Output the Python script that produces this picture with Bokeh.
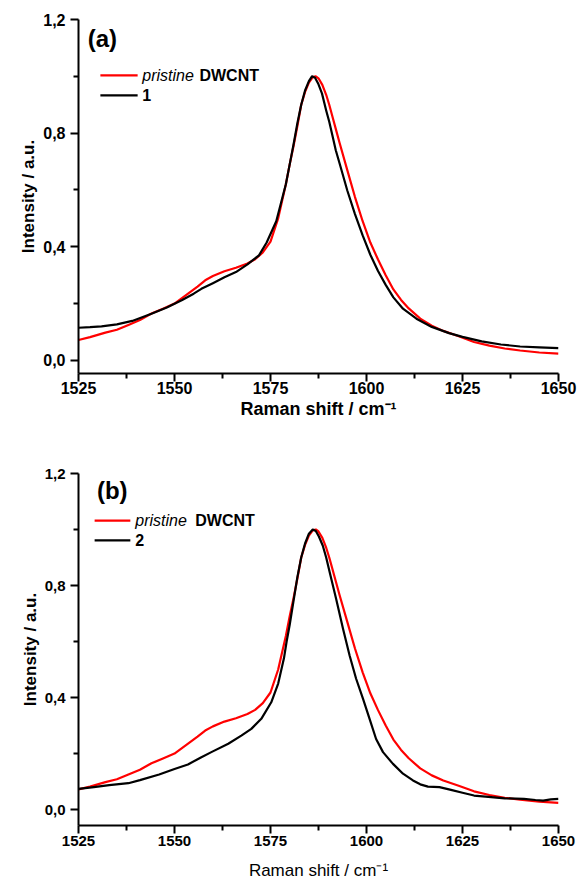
from bokeh.plotting import figure
from bokeh.layouts import column
from bokeh.models import Range1d, FixedTicker, CustomJSTickFormatter, Label
from bokeh.embed import file_html
from bokeh.resources import INLINE

# ---------------- data ----------------
# pristine DWCNT (red), shared by both panels
x_pristine = [1525, 1528, 1532, 1535, 1538, 1541, 1544, 1547, 1550, 1553, 1556, 1558,
              1560, 1563, 1566, 1569, 1571, 1573, 1575, 1577, 1579, 1580, 1581, 1582,
              1583, 1584, 1585, 1586, 1586.8, 1587.5, 1588.5, 1589.5, 1590.3, 1591, 1592,
              1593, 1595, 1597, 1599, 1601, 1603, 1605, 1607, 1609, 1611, 1614, 1617,
              1620, 1624, 1628, 1632, 1636, 1640, 1645, 1650]
y_pristine = [0.072, 0.082, 0.098, 0.108, 0.125, 0.142, 0.165, 0.182, 0.200, 0.230, 0.260,
              0.282, 0.297, 0.314, 0.326, 0.341, 0.356, 0.380, 0.418, 0.500, 0.620, 0.690,
              0.755, 0.825, 0.900, 0.945, 0.978, 0.997, 1.000, 0.993, 0.970, 0.935, 0.900,
              0.865, 0.815, 0.765, 0.670, 0.575, 0.490, 0.415, 0.355, 0.300, 0.250, 0.213,
              0.183, 0.147, 0.122, 0.104, 0.085, 0.065, 0.052, 0.042, 0.035, 0.028, 0.024]

# sample 1 (black, panel a)
x_s1 = [1525, 1528, 1531, 1535, 1539, 1544, 1548, 1552, 1555, 1557, 1560, 1563, 1566,
        1569, 1572, 1574, 1576.5, 1579, 1580, 1581, 1582, 1583, 1584, 1585, 1585.8,
        1586.6, 1587.4, 1588.4, 1589.5, 1590.3, 1591.2, 1592, 1593, 1595, 1597, 1599,
        1601, 1603, 1605, 1607, 1609.5, 1613, 1617, 1621.5, 1625, 1630, 1635, 1640,
        1645, 1650]
y_s1 = [0.115, 0.117, 0.120, 0.127, 0.139, 0.164, 0.186, 0.213, 0.235, 0.252, 0.272,
        0.293, 0.311, 0.338, 0.370, 0.415, 0.490, 0.620, 0.690, 0.760, 0.835, 0.900,
        0.950, 0.983, 1.000, 0.995, 0.975, 0.940, 0.880, 0.840, 0.787, 0.740, 0.693,
        0.598, 0.515, 0.440, 0.372, 0.315, 0.266, 0.222, 0.182, 0.147, 0.118, 0.096,
        0.083, 0.067, 0.056, 0.049, 0.046, 0.043]

# sample 2 (black, panel b)
x_s2 = [1525, 1529, 1533, 1538, 1541, 1546, 1550, 1553.5, 1557, 1559.6, 1564, 1567.4,
        1570, 1572.6, 1575.2, 1577, 1578.5, 1579.2, 1580, 1581, 1582, 1583, 1584, 1585,
        1586, 1586.8, 1587.6, 1588.6, 1589.5, 1590.4, 1592.1, 1593.9, 1595.6, 1597.3,
        1599.1, 1600.8, 1602.5, 1604.3, 1606.9, 1609.5, 1612.1, 1614, 1616, 1619, 1622,
        1625, 1628, 1631, 1636, 1641, 1644, 1646, 1648, 1650]
y_s2 = [0.074, 0.080, 0.087, 0.094, 0.105, 0.125, 0.145, 0.161, 0.187, 0.205, 0.235,
        0.264, 0.288, 0.324, 0.383, 0.450, 0.540, 0.600, 0.660, 0.745, 0.830, 0.900,
        0.950, 0.985, 1.000, 0.995, 0.975, 0.943, 0.900, 0.848, 0.752, 0.645, 0.550,
        0.467, 0.395, 0.324, 0.252, 0.205, 0.163, 0.128, 0.104, 0.090, 0.082, 0.080,
        0.070, 0.060, 0.050, 0.046, 0.040, 0.038, 0.034, 0.032, 0.036, 0.038]

x_ticks = [1525, 1550, 1575, 1600, 1625, 1650]
x_minor = [1537.5, 1562.5, 1587.5, 1612.5, 1637.5]
y_ticks = [0.0, 0.4, 0.8, 1.2]
y_minor = [0.2, 0.6, 1.0]

FONT = "Liberation Sans"
RED = "#ff0000"
BLACK = "#000000"


def make_panel(h, top, bottom, y_lo, black_x, black_y, tag, sample_name,
               tick_size, title_size, title_weight, x_label_standoff, x_title_standoff,
               tag_pos, leg_pos):
    p = figure(width=578, height=h, x_range=Range1d(1525, 1650), y_range=Range1d(y_lo, 1.2),
               output_backend="svg", toolbar_location=None,
               min_border_left=78, min_border_right=20, min_border_top=top,
               min_border_bottom=bottom)
    p.outline_line_color = None
    p.xgrid.visible = False
    p.ygrid.visible = False
    p.background_fill_color = "white"

    p.line(x_pristine, y_pristine, line_color=RED, line_width=2.2, line_join="round")
    p.line(black_x, black_y, line_color=BLACK, line_width=2.2, line_join="round")

    xa = p.xaxis[0]
    xa.ticker = FixedTicker(ticks=x_ticks, minor_ticks=x_minor)
    xa.axis_label = "Raman shift / cm\u207b\u00b9"
    ya = p.yaxis[0]
    ya.ticker = FixedTicker(ticks=y_ticks, minor_ticks=y_minor)
    ya.formatter = CustomJSTickFormatter(code="return tick.toFixed(1).replace('.', ',');")
    ya.axis_label = "Intensity / a.u."

    for ax in (xa, ya):
        ax.axis_line_width = 2
        ax.axis_line_color = BLACK
        ax.major_tick_line_width = 2
        ax.minor_tick_line_width = 2
        ax.major_tick_in = 0
        ax.major_tick_out = 8
        ax.minor_tick_in = 0
        ax.minor_tick_out = 5
        ax.major_label_text_font = FONT
        ax.major_label_text_font_style = "bold"
        ax.major_label_text_color = BLACK
        ax.axis_label_text_font = FONT
        ax.axis_label_text_color = BLACK

    xa.major_label_text_font_size = f"{tick_size}px"
    ya.major_label_text_font_size = f"{tick_size}px"
    xa.major_label_standoff = x_label_standoff
    ya.major_label_standoff = 5
    xa.axis_label_text_font_size = f"{title_size}px"
    xa.axis_label_text_font_style = title_weight
    xa.axis_label_standoff = x_title_standoff
    ya.axis_label_text_font_size = "17px"
    ya.axis_label_text_font_style = "bold"
    ya.axis_label_standoff = 2

    # panel tag
    p.add_layout(Label(x=tag_pos[0], y=tag_pos[1], text=tag, text_font=FONT,
                       text_font_size="24px", text_font_style="bold",
                       text_baseline="middle", text_align="left", text_color=BLACK))

    # legend (drawn by hand to allow mixed italic / bold text)
    sx0, sx1, ty, by, tx, tx2 = leg_pos
    p.segment(x0=[sx0], y0=[ty], x1=[sx1], y1=[ty], line_color=RED, line_width=2.2)
    p.segment(x0=[sx0], y0=[by], x1=[sx1], y1=[by], line_color=BLACK, line_width=2.2)
    p.add_layout(Label(x=tx, y=ty, text="pristine", text_font=FONT, text_font_size="16px",
                       text_font_style="italic", text_baseline="middle", text_color=BLACK))
    p.add_layout(Label(x=tx2, y=ty, text="DWCNT", text_font=FONT, text_font_size="16px",
                       text_font_style="bold", text_baseline="middle", text_color=BLACK))
    p.add_layout(Label(x=tx, y=by, text=sample_name, text_font=FONT, text_font_size="16px",
                       text_font_style="bold", text_baseline="middle", text_color=BLACK))
    return p


pa = make_panel(452, 19, 79, -0.046, x_s1, y_s1, "(a)", "1",
                16, 18, "bold", 0, 2,
                (1527.4, 1.134), (1530.7, 1540.4, 1.003, 0.933, 1541.6, 1556.5))
pb = make_panel(430, 21, 57, -0.057, x_s2, y_s2, "(b)", "2",
                15, 17, "normal", 2, 12,
                (1529.8, 1.139), (1529.2, 1538.5, 1.032, 0.961, 1539.8, 1555.4))

layout = column(pa, pb, spacing=0)
open("out.html", "w").write(file_html(layout, INLINE))
